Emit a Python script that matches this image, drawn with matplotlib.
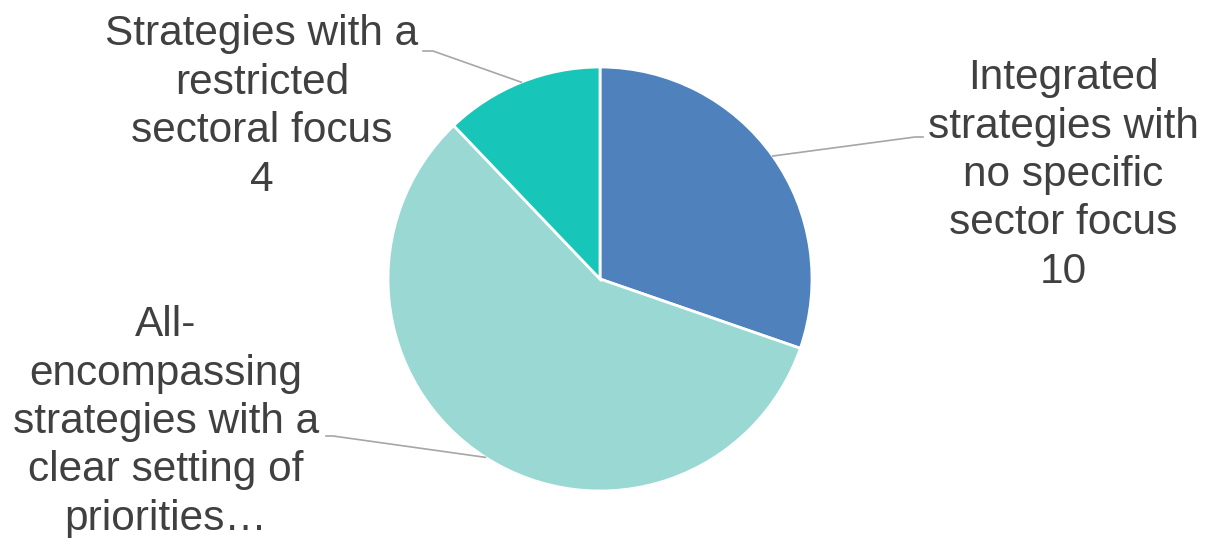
import numpy as np
import matplotlib.pyplot as plt

# Dane wykresu
labels = ["Integrated\nstrategies with\nno specific\nsector focus",
          "All-\nencompassing\nstrategies with a\nclear setting of\npriorities\u2026",
          "Strategies with a\nrestricted\nsectoral focus"]
values = [10, 19, 4]
show_value = [True, False, True]
colors = ["#4F81BD", "#9AD8D4", "#17C6B8"]

W, H = 1205, 538
fig = plt.figure(figsize=(W / 100, H / 100), dpi=100)
ax = fig.add_axes([0, 0, 1, 1])

cx, cy, r = 600, H - 279, 212
wedges, _ = ax.pie(values, colors=colors, startangle=90, counterclock=False,
                   center=(cx, cy), radius=r, frame=True,
                   wedgeprops=dict(edgecolor="white", linewidth=2))
ax.set_xlim(0, W)
ax.set_ylim(0, H)
ax.set_aspect("auto")
ax.axis("off")

# pozycje etykiet (srodek bloku tekstu) i koniec linii odniesienia
text_pos = [(1063, H - 175), (166, H - 422), (262, H - 107)]
elbow = [(915, H - 137, 923), (333, H - 436, 326), (433, H - 51, 423)]

for w, lab, v, sv, tp, el in zip(wedges, labels, values, show_value, text_pos, elbow):
    ang = np.deg2rad((w.theta1 + w.theta2) / 2)
    px = cx + r * np.cos(ang)
    py = cy + r * np.sin(ang)
    ax.plot([px, el[0], el[2]], [py, el[1], el[1]], color="#A6A6A6", lw=1.2)
    txt = lab + ("\n" + str(v) if sv else "")
    ax.text(tp[0], tp[1], txt, ha="center", va="center", fontsize=30.5,
            family="Liberation Sans", color="#404040", linespacing=1.27)

fig.savefig("out.png", dpi=100)
